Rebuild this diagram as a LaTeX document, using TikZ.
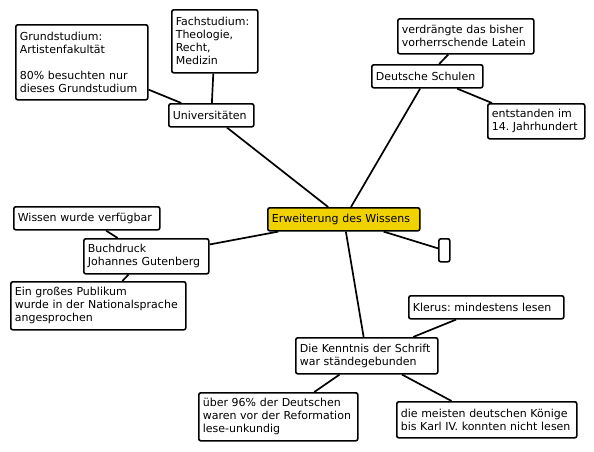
\documentclass[tikz,border=0pt]{standalone}
\usepackage{fontspec}
\setmainfont{DejaVu Sans}
\definecolor{gold}{RGB}{240,210,0}
\begin{document}
\frenchspacing
\begin{tikzpicture}[x=1pt,y=-1pt,
  box/.style={draw=black, line width=1.6pt, rounded corners=2pt, fill=white,
    anchor=north west, align=left, inner xsep=4pt, inner ysep=0pt,
    font=\fontsize{11}{13}\selectfont\frenchspacing},
  link/.style={line width=1.7pt, draw=black}]
\useasboundingbox[fill=white] (0,0) rectangle (594,451);
\newcommand{\bx}[7]{\node[box,#7, text width=#4pt-8pt, minimum height=#5pt] (#1) at (#2,#3) {#6};}
\bx{grund}{15}{24}{132}{75}{Grundstudium:\\Artistenfakultät\\[13pt]80\% besuchten nur\\dieses Grundstudium}{}
\bx{fach}{171}{9}{86}{63}{Fachstudium:\\Theologie,\\Recht,\\Medizin}{}
\bx{uni}{168}{103}{85}{23}{Universitäten}{}
\bx{verdr}{397}{18}{136}{35}{verdrängte das bisher\\vorherrschende Latein}{}
\bx{ds}{371}{64}{111}{23}{Deutsche Schulen}{}
\bx{entst}{487}{103}{97}{35}{entstanden im\\14. Jahrhundert}{}
\bx{wissen}{13}{206}{146}{23}{Wissen wurde verfügbar}{}
\bx{buch}{83}{238}{125}{35}{Buchdruck\\Johannes Gutenberg}{}
\bx{gross}{10}{281}{175}{48}{Ein großes Publikum\\wurde in der Nationalsprache\\angesprochen}{}
\bx{erw}{267}{207}{152}{23}{Erweiterung des Wissens}{fill=gold}
\node[draw=black, line width=1.6pt, rounded corners=2pt, fill=white, anchor=north west,
  inner sep=0pt, minimum width=11pt, minimum height=23pt] (empty) at (438,238) {};
\bx{klerus}{408}{295}{155}{23}{Klerus: mindestens lesen}{}
\bx{kennt}{295}{337}{142}{36}{Die Kenntnis der Schrift\\war ständegebunden}{}
\bx{ueber}{198}{392}{159}{48}{über 96\% der Deutschen\\waren vor der Reformation\\lese-unkundig}{}
\bx{meist}{396}{401}{180}{36}{die meisten deutschen Könige\\bis Karl IV. konnten nicht lesen}{}
\draw[link] (erw) -- (uni);
\draw[link] (erw) -- (ds);
\draw[link] (erw) -- (buch);
\draw[link] (erw) -- (empty);
\draw[link] (erw) -- (kennt);
\draw[link] (uni) -- (grund);
\draw[link] (uni) -- (fach);
\draw[link] (ds) -- (verdr);
\draw[link] (ds) -- (entst);
\draw[link] (buch) -- (wissen);
\draw[link] (buch) -- (gross);
\draw[link] (kennt) -- (klerus);
\draw[link] (kennt) -- (ueber);
\draw[link] (kennt) -- (meist);
\end{tikzpicture}
\end{document}
